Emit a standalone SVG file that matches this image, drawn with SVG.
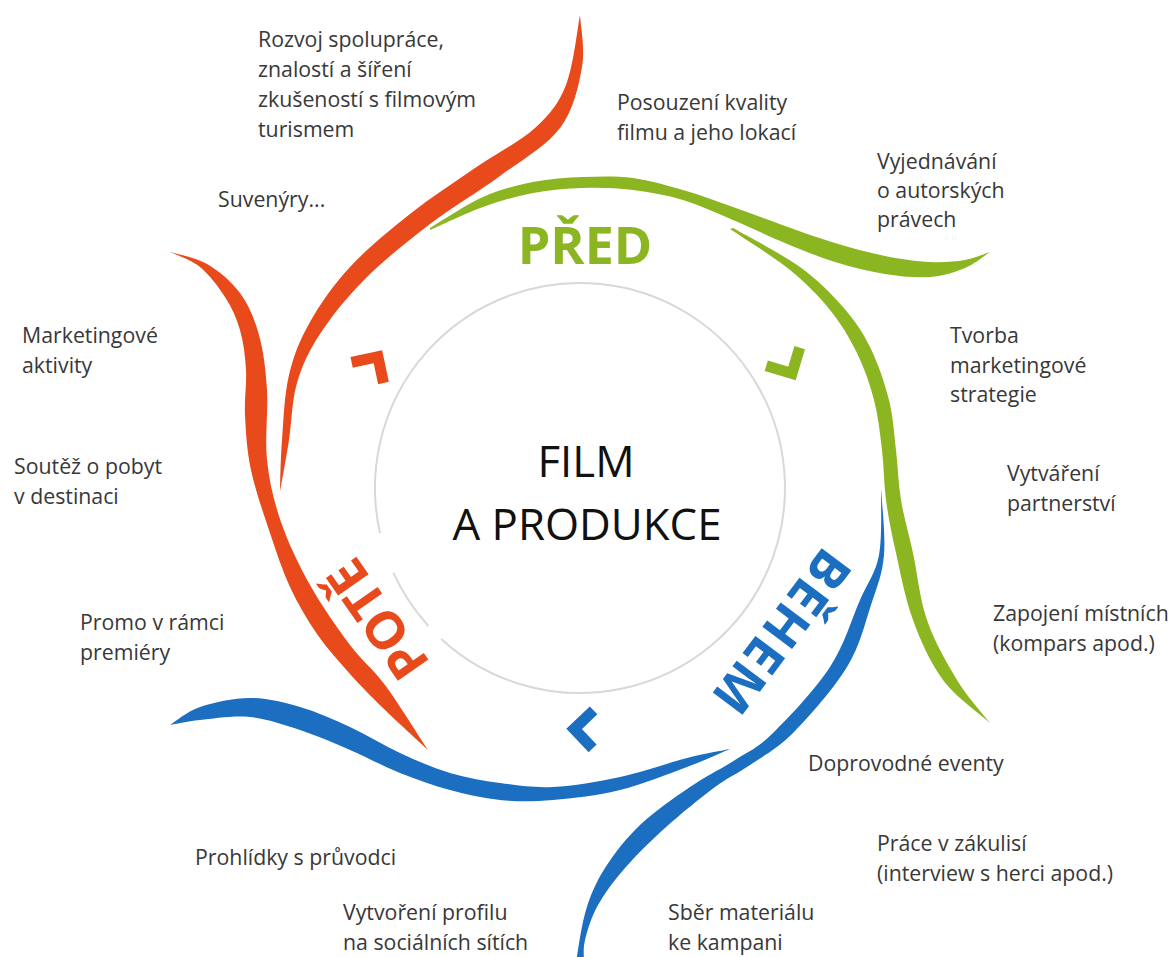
<svg xmlns="http://www.w3.org/2000/svg" width="1174" height="957" viewBox="0 0 1174 957">
<style>
.t{font-family:"Open Sans","Liberation Sans",sans-serif;font-size:21.3px;fill:#383838}
.c{font-family:"Open Sans","Liberation Sans",sans-serif;font-size:44px;fill:#111;text-anchor:middle}
.lab{font-family:"Open Sans","Liberation Sans",sans-serif;font-size:52px;font-weight:700;text-anchor:middle}
.or{fill:#E84A1C}.gr{fill:#8CB522}.bl{fill:#1B6EC0}
.chev{fill:none;stroke-width:11;stroke-linejoin:miter;stroke-linecap:butt}
</style>
<defs>
<polyline id="chev" points="-19,-19 0,0 -19,19"/>
</defs>
<rect width="1174" height="957" fill="#fff"/>

<g id="ring">
<path d="M380,533.1 A205,205 0 1 1 441.2,638.9 M428.4,626 A205,205 0 0 1 393.3,572.7" fill="none" stroke="#d8d8d8" stroke-width="2"/>
</g>

<g id="swooshes">
<path id="orange-long" class="or" d="M580,15 C580.3,23.7 585.3,48.2 582,67 S573.7,109.8 560,128 S521.7,160 500,176 S452.5,206.8 430,224 S383.3,260.7 365,279 S331.3,316.7 320,334 S302.2,365.3 297,383 S291.8,421.8 289,440 S281.5,483.3 280,492 C280.3,483.3 280.5,459.5 282,440 S284.3,394.7 289,375 S299.8,340 310,322 S333.3,285 350,267 S389.2,230.5 410,214 S454.2,182.3 475,168 S519.8,141.8 535,128 S558.5,103.8 566,85 S577.7,26.7 580,15 Z"/>
<path id="orange-left" class="or" d="M170,252 C176.2,254 195.3,257.2 207,264 S231.3,281.2 240,293 S254.5,318.8 259,335 S265.7,369.2 267,390 S264.7,438 267,460 S273.8,501.2 281,522 S298.5,564.5 310,585 S337.5,628.3 350,645 S372,667.5 385,685 S420.8,739.2 428,750 C420.5,743 396,720.7 383,708 S361,686.3 350,674 S327,648.5 317,634 S297.8,603.8 290,587 S276.5,552.5 270,533 S255.2,489.7 251,470 S245.8,431.7 245,415 S246.8,384.2 246,370 S243.5,342.2 240,330 S231.7,307.5 225,297 S209.2,274.5 200,267 S175,254.5 170,252 Z"/>
<path id="green-top" class="gr" d="M430,228 C438.8,222.8 465.8,204.7 483,197 S516.3,185.3 533,182 S566.3,177.7 583,177 S616.3,175.8 633,178 S666.3,185.2 683,190 S716,201 733,207 S768,220 785,226 S818.3,238 835,243 S869.2,252.8 885,256 S916.7,261.3 930,262 S955,261.7 965,260 S985.8,253.3 990,252 C985.8,254.7 975,263.8 965,268 S943.3,276 930,277 S900.8,276.5 885,274 S851.7,267.2 835,262 S802,250 785,243 S750,227.2 733,220 S699.7,205 683,200 S649.7,192 633,190 S599.7,187.5 583,188 S549.7,189.8 533,193 S500.2,200.8 483,207 S438.8,226.2 430,230 Z"/>
<path id="green-right" class="gr" d="M730,229 C740,235.8 773.3,256.5 790,270 S818.8,296.2 830,310 S849.7,338 857,353 S869.8,383.8 874,400 S880,433.3 882,450 S883.7,482.8 886,500 S891.5,533 896,553 S905.2,598.8 913,620 S930.2,662.8 943,680 S982.2,715.8 990,723 C984.5,715.8 967.5,697.2 957,680 S934.3,641.2 927,620 S917.3,573 913,553 S903.8,517.2 901,500 S898,466.7 896,450 S893.3,417.2 889,400 S877.7,362.5 870,347 S854.7,320.3 843,307 S818.3,280.2 800,267 S744.2,234.5 733,228 Z"/>
<path id="blue-right" class="bl" d="M881,488 C881.5,499 885.7,535.5 884,555 S877.2,586.3 871,605 S860,645.7 847,667 S809.2,716.7 793,733 S763,756 750,765 S729.2,776.5 715,787 S680,814.5 665,828 S636.2,855.2 625,868 S604.7,893 598,905 S587.3,930.5 585,940 S584.2,958.3 584,962 L576,962 C577.7,953.3 581.2,925.7 586,910 S596,882.2 605,868 S625.8,838.5 640,825 S674.2,797.8 690,787 S721.2,769 735,760 S757.2,748.5 773,733 S815.5,689.2 830,667 S851.8,618.7 860,600 S875.5,573.7 879,555 S880.7,499.2 881,488 Z"/>
<path id="blue-bottom" class="bl" d="M170,725 C175,722 186.7,711.5 200,707 S233.3,698 250,698 S283.3,702.2 300,707 S333.3,719.3 350,727 S383.3,745.3 400,753 S433.3,768 450,773 S482.8,780.7 500,783 S533,788 553,787 S597.7,781.8 620,777 S668.7,762.7 687,758 S722.8,750.5 730,749 C722.8,752 705.3,760.2 687,767 S642.3,784.5 620,790 S573,798.3 553,800 S517.2,801.7 500,800 S466.7,794.5 450,790 S416.7,779.7 400,773 S366.7,757.2 350,750 S316.7,735.5 300,730 S266.7,718.7 250,717 S213.3,718.7 200,720 S175,724.2 170,725 Z"/>
</g>

<g id="chevrons">
<use href="#chev" class="chev" stroke="#E84A1C" transform="translate(377.9,356.7) rotate(303)"/>
<use href="#chev" class="chev" stroke="#8CB522" transform="translate(792,373.4) rotate(61.6)"/>
<use href="#chev" class="chev" stroke="#1B6EC0" transform="translate(574.1,728.9) rotate(181.4)"/>
</g>

<g id="phase-labels">
<text class="lab gr" x="585" y="264">PŘED</text>
<text class="lab bl" transform="translate(781,632) rotate(127)" x="0" y="18" letter-spacing="2">BĚHEM</text>
<text class="lab or" transform="translate(378,619) rotate(-125)" x="0" y="18">POTĚ</text>
</g>

<g id="center">
<text class="c" x="586" y="477" textLength="97" lengthAdjust="spacingAndGlyphs">FILM</text>
<text class="c" x="587" y="540" textLength="269" lengthAdjust="spacingAndGlyphs">A PRODUKCE</text>
</g>

<g id="notes">
<text class="t" x="258" y="47">Rozvoj spolupráce,</text>
<text class="t" x="258" y="77">znalostí a šíření</text>
<text class="t" x="258" y="107">zkušeností s filmovým</text>
<text class="t" x="258" y="137">turismem</text>
<text class="t" x="218" y="207">Suvenýry...</text>
<text class="t" x="617" y="110">Posouzení kvality</text>
<text class="t" x="617" y="140">filmu a jeho lokací</text>
<text class="t" x="877" y="169">Vyjednávání</text>
<text class="t" x="877" y="198">o autorských</text>
<text class="t" x="877" y="227">právech</text>
<text class="t" x="950" y="343">Tvorba</text>
<text class="t" x="950" y="373">marketingové</text>
<text class="t" x="950" y="402">strategie</text>
<text class="t" x="1007" y="481">Vytváření</text>
<text class="t" x="1007" y="511">partnerství</text>
<text class="t" x="993" y="621">Zapojení místních</text>
<text class="t" x="993" y="651">(kompars apod.)</text>
<text class="t" x="22" y="343">Marketingové</text>
<text class="t" x="22" y="373">aktivity</text>
<text class="t" x="14" y="474">Soutěž o pobyt</text>
<text class="t" x="14" y="504">v destinaci</text>
<text class="t" x="80" y="630">Promo v rámci</text>
<text class="t" x="80" y="660">premiéry</text>
<text class="t" x="808" y="771">Doprovodné eventy</text>
<text class="t" x="877" y="851">Práce v zákulisí</text>
<text class="t" x="877" y="881">(interview s herci apod.)</text>
<text class="t" x="195" y="865">Prohlídky s průvodci</text>
<text class="t" x="343" y="920">Vytvoření profilu</text>
<text class="t" x="343" y="950">na sociálních sítích</text>
<text class="t" x="668" y="920">Sběr materiálu</text>
<text class="t" x="668" y="950">ke kampani</text>
</g>
</svg>
